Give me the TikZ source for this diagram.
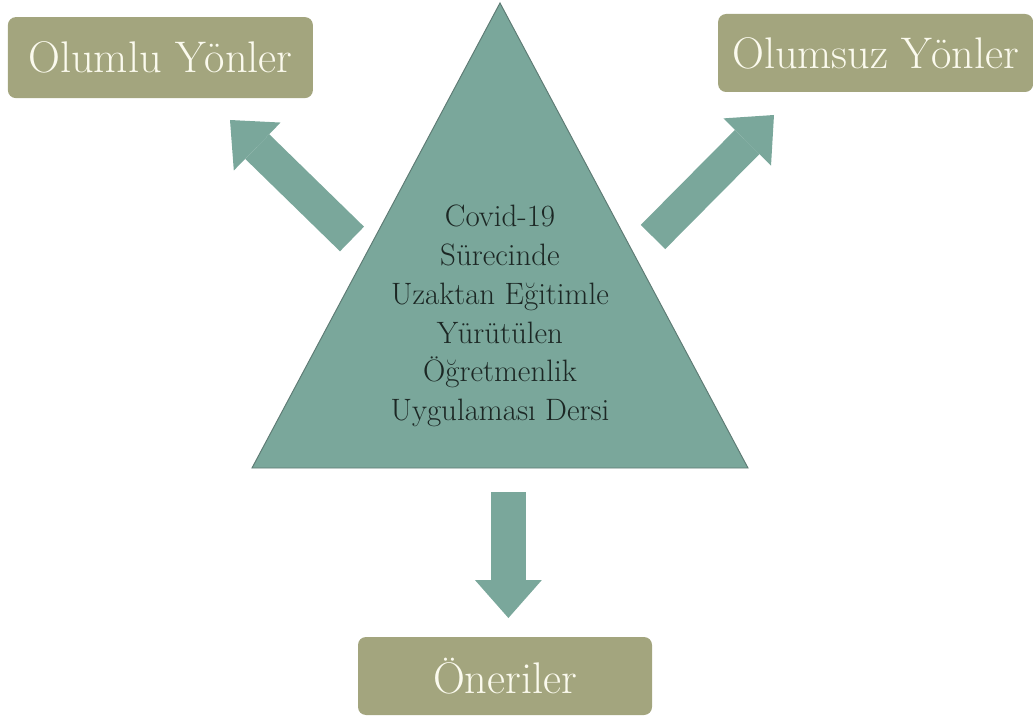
\documentclass[tikz,border=0pt]{standalone}
\usepackage{fontspec}
\usepackage{xcolor}
\usepackage{tikz}
\usetikzlibrary{arrows.meta}
\definecolor{sageTeal}{HTML}{7AA79B}
\definecolor{sageEdge}{HTML}{5F7C75}
\definecolor{oliveBox}{HTML}{A3A57E}
\definecolor{creamText}{HTML}{FBFAEE}
\definecolor{inkDark}{HTML}{1C2724}
\tikzset{
  topicbox/.style={rectangle, rounded corners=0.2cm, fill=oliveBox, text=creamText,
    font=\fontsize{31.5}{36}\selectfont, inner sep=0pt},
  blockarrow/.style={sageTeal, line width=0.86cm,
    -{Triangle[width=1.675cm, length=0.95cm, line width=0pt]}}
}

\begin{document}
\begin{tikzpicture}
  \useasboundingbox (0,0) rectangle (25.825,18);
  \fill[sageTeal, draw=sageEdge, line width=0.7pt] (12.5,17.925) -- (6.3,6.3) -- (18.7,6.3) -- cycle;
  \node[font=\fontsize{22}{27.6}\selectfont, text=inkDark, align=center] (core) at (12.5,10.1)
    {Covid-19\\Sürecinde\\Uzaktan Eğitimle\\Yürütülen\\Öğretmenlik\\Uygulaması Dersi};
  \node[topicbox, minimum width=7.625cm, minimum height=2.025cm] (pos) at (4.01,16.56) {Olumlu Yönler};
  \node[topicbox, minimum width=7.875cm, minimum height=1.95cm] (neg) at (21.89,16.675) {Olumsuz Yönler};
  \node[topicbox, minimum width=7.35cm, minimum height=1.95cm] (oneri) at (12.625,1.1) {Öneriler};
  \coordinate (posTail) at (8.8,12.025);
  \coordinate (posTip) at (5.75,15.0);
  \coordinate (negTail) at (16.325,12.075);
  \coordinate (negTip) at (19.35,15.125);
  \coordinate (oneriTail) at (12.71,5.7);
  \coordinate (oneriTip) at (12.71,2.55);
  \draw[blockarrow] (posTail) -- (posTip);
  \draw[blockarrow] (negTail) -- (negTip);
  \draw[blockarrow] (oneriTail) -- (oneriTip);
\end{tikzpicture}
\end{document}
